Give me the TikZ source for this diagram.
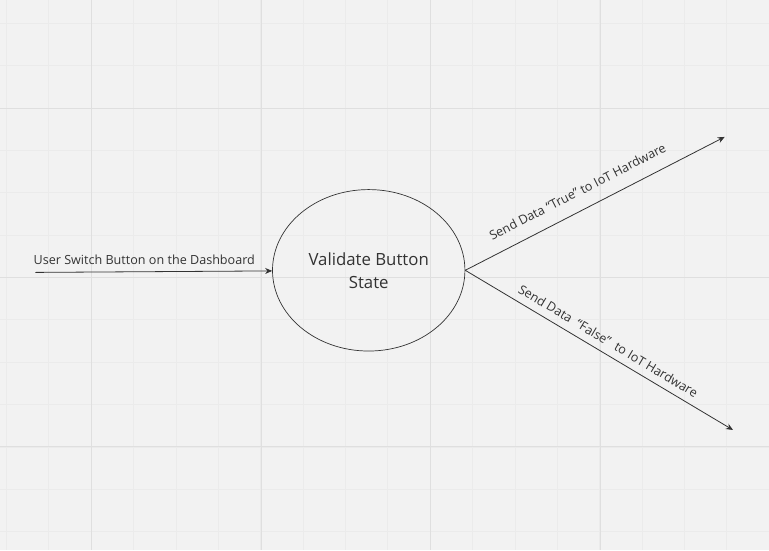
\documentclass[tikz,border=0pt]{standalone}
\usepackage{fontspec}
\setmainfont{Open Sans}
\usetikzlibrary{shapes.geometric,arrows.meta}
\definecolor{gridbg}{HTML}{F2F2F2}
\definecolor{gridminor}{HTML}{EBEBEB}
\definecolor{gridmajor}{HTML}{DFDFDF}
\definecolor{ink}{HTML}{333333}
\begin{document}
\begin{tikzpicture}[x=1pt, y=-1pt, -{Stealth[length=7pt,width=6pt]}, line width=0.8pt,
    main node/.style={ellipse, draw=ink, line width=0.7pt, minimum width=192.6pt, minimum height=161.6pt,
      inner sep=0pt, align=center, font=\fontsize{16.8}{23}\selectfont},
    grid line/.style={-, line width=0.7pt}]
        \tikzstyle{every node}=[font=\fontsize{12.6}{15}\selectfont, text=ink]

        % grid in the back
        \fill[gridbg] (0,0) rectangle (769,550);
        \foreach \k in {0,...,17}
          \draw[grid line, gridminor] ({6+42.42*\k},0) -- ++(0,550);
        \foreach \k in {0,...,12}
          \draw[grid line, gridminor] (0,{22.8+42.42*\k}) -- ++(769,0);
        \foreach \gx in {91.2,260.9,430.6,600.3}
          \draw[grid line, gridmajor] (\gx,0) -- ++(0,550);
        \foreach \gy in {107.6,277.2,446.8}
          \draw[grid line, gridmajor] (0,\gy) -- ++(769,0);

          \node[main node] (vbs) at (368.7,270.2) {Validate Button\\State};
          \coordinate (user) at (35,272.3);
          \coordinate (iot true) at (725,136.7);
          \coordinate (iot false) at (733.3,430);

          \path[color=ink]
            (user) edge node [above, pos=0.46, yshift=3pt] {User Switch Button on the Dashboard} (vbs)
            (vbs.east) edge node [sloped, above, pos=0.465, yshift=10pt] {Send Data “True” to IoT Hardware} (iot true)
                       edge node [sloped, above, pos=0.51, yshift=4pt] {Send Data \ “False” \ to IoT Hardware} (iot false);

\end{tikzpicture}
\end{document}
